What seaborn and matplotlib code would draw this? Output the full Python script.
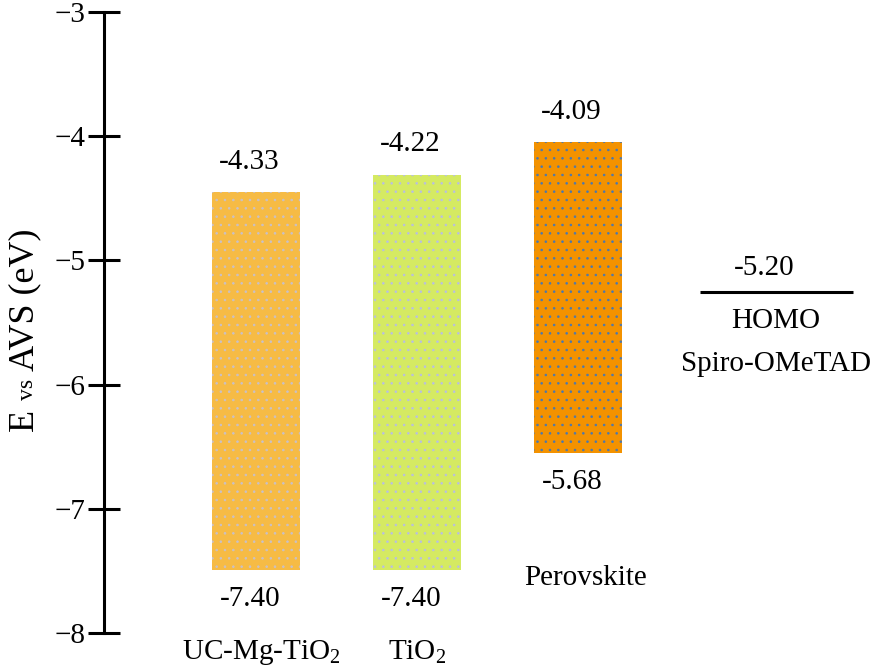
import matplotlib
matplotlib.use("Agg")
import matplotlib.pyplot as plt
import numpy as np
import seaborn as sns

# band edges as drawn (eV), and the values printed next to them
materials = ["UC-Mg-TiO2", "TiO2", "Perovskite"]
material_text = ["UC-Mg-TiO$_2$", "TiO$_2$", "Perovskite"]
band_top = [-4.45, -4.31, -4.05]
band_bottom = [-7.49, -7.49, -6.55]
top_labels = ["-4.33", "-4.22", "-4.09"]
bottom_labels = ["-7.40", "-7.40", "-5.68"]
bar_colors = ["#F6BB45", "#D5EA62", "#F39200"]
dot_colors = ["#c9c0c8", "#b8bfe0", "#4a78b0"]

homo_level = -5.25
homo_label = "-5.20"

sns.set_theme(style="white")
plt.rcParams["font.family"] = ["Liberation Serif", "DejaVu Serif"]
plt.rcParams["mathtext.fontset"] = "custom"
plt.rcParams["mathtext.rm"] = "Liberation Serif"
plt.rcParams["mathtext.it"] = "Liberation Serif:italic"
plt.rcParams["hatch.linewidth"] = 0.6
plt.rcParams["text.color"] = "black"

fig = plt.figure(figsize=(8.88, 6.70), dpi=100)
ax = fig.add_axes([0.117, 0.055, 0.883, 0.927])

spans = np.array(band_top) - np.array(band_bottom)
sns.barplot(x=materials, y=spans, hue=materials, palette=bar_colors,
            legend=False, width=0.547, ax=ax, linewidth=0, saturation=1)
for patch, b, dc in zip(ax.patches, band_bottom, dot_colors):
    patch.set_y(b)
    patch.set_hatch("..")
    patch.set_edgecolor(dc)
    patch.set_linewidth(0)

# HOMO level of Spiro-OMeTAD
ax.hlines(homo_level, 2.76, 3.71, color="black", linewidth=2.2)

fs = 21
for i, (t, b, tl, bl) in enumerate(zip(band_top, band_bottom, top_labels, bottom_labels)):
    ax.annotate(tl, (i, t), xytext=(-5, 22), textcoords="offset points",
                ha="center", va="center", fontsize=fs)
    ax.annotate(bl, (i, b), xytext=(-4, -21), textcoords="offset points",
                ha="center", va="center", fontsize=fs)

ax.annotate(homo_label, (3.2, homo_level), xytext=(-5, 17), textcoords="offset points",
            ha="center", va="center", fontsize=fs)
ax.annotate("HOMO", (3.23, homo_level), xytext=(0, -21), textcoords="offset points",
            ha="center", va="center", fontsize=fs)
ax.annotate("Spiro-OMeTAD", (3.23, homo_level), xytext=(0, -52), textcoords="offset points",
            ha="center", va="center", fontsize=fs)

# material names
ax.annotate(material_text[0], (0.03, -8), xytext=(0, -14), textcoords="offset points",
            ha="center", va="center", fontsize=fs)
ax.annotate(material_text[1], (1.0, -8), xytext=(0, -14), textcoords="offset points",
            ha="center", va="center", fontsize=fs)
ax.annotate(material_text[2], (2.05, band_bottom[2]), xytext=(0, -90), textcoords="offset points",
            ha="center", va="center", fontsize=fs)

ax.set_xlim(-0.944, 3.925)
ax.set_ylim(-8, -3)
ax.set_yticks([-8, -7, -6, -5, -4, -3])
ax.set_xticks([])
ax.set_xlabel("")
for s in ["top", "right", "bottom"]:
    ax.spines[s].set_visible(False)
ax.spines["left"].set_linewidth(2.2)
ax.spines["left"].set_color("black")
ax.tick_params(axis="y", direction="inout", length=23, width=2.2, pad=2,
               labelsize=21, colors="black", left=True)

# y label with small "vs"
fig.text(0.037, 0.357, "E", rotation=90, rotation_mode="anchor",
         ha="left", va="baseline", fontsize=26)
fig.text(0.037, 0.403, "vs", rotation=90, rotation_mode="anchor",
         ha="left", va="baseline", fontsize=17)
fig.text(0.037, 0.447, "AVS (eV)", rotation=90, rotation_mode="anchor",
         ha="left", va="baseline", fontsize=26)

fig.savefig("out.png", dpi=100)
